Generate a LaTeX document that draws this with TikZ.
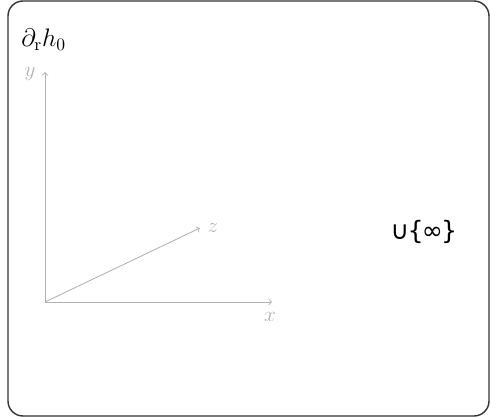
\documentclass[tikz,border=0pt]{standalone}
\usepackage{fontspec}
\newfontfamily\setsymfont{DejaVu Sans}
\usepackage{tikz}
\tikzset{
  frame/.style={draw=black!80, line width=0.8pt, rounded corners=0.3cm},
  axis/.style={draw=black!30, line width=0.5pt, -to},
  axislabel/.style={text=black!30, font=\large, inner sep=1pt},
  title/.style={font=\Large, anchor=west, inner sep=0pt},
  extended/.style={font=\setsymfont\Large, inner sep=0pt},
}

\begin{document}
\begin{tikzpicture}
\useasboundingbox (0,0) rectangle (9.8,8.36);
\draw[frame] (0.16,0.04) rectangle (9.78,8.34);
\node[title] (lbl) at (0.42,7.56) {$\partial_{\mathrm{r}}h_0$};
\coordinate (O) at (0.9,2.32);
\coordinate (xtip) at (5.44,2.32);
\coordinate (ytip) at (0.9,6.92);
\coordinate (ztip) at (4.0,3.8);
\draw[axis] (O) -- (xtip);
\draw[axis] (O) -- (ytip);
\draw[axis] (O) -- (ztip);
\node[axislabel] (xl) at (5.4,2.02) {$x$};
\node[axislabel] (yl) at (0.6,6.88) {$y$};
\node[axislabel] (zl) at (4.26,3.8) {$z$};
\node[extended] (inf) at (8.48,3.72) {∪\kern-1pt\{\kern-1pt∞\kern-1pt\}};
\end{tikzpicture}
\end{document}
